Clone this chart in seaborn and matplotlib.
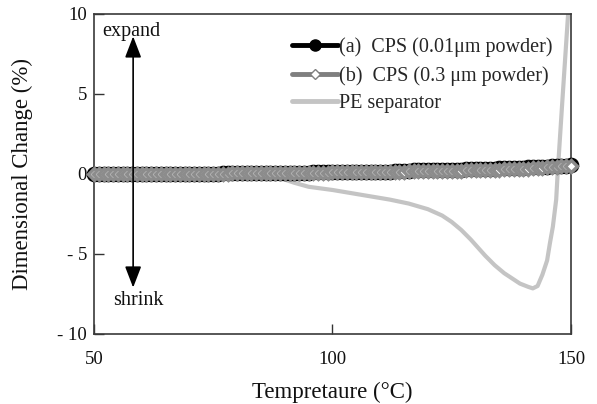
import matplotlib
matplotlib.use("Agg")
import matplotlib.pyplot as plt
from matplotlib.lines import Line2D
import pandas as pd
import seaborn as sns

# Temperature grid of the CPS scans (°C)
cps_temp = list(range(50, 151))

# (a) CPS, 0.01 µm powder: dimensional change (%)
cps_a = [
    0.00, 0.00, 0.00, 0.00, 0.00, 0.00, 0.00, 0.00, 0.00, 0.00,
    0.00, 0.00, 0.01, 0.01, 0.01, 0.01, 0.01, 0.02, 0.02, 0.02,
    0.02, 0.02, 0.03, 0.03, 0.03, 0.03, 0.03, 0.04, 0.04, 0.04,
    0.04, 0.05, 0.05, 0.05, 0.05, 0.06, 0.06, 0.06, 0.07, 0.07,
    0.07, 0.08, 0.08, 0.08, 0.09, 0.09, 0.10, 0.10, 0.10, 0.11,
    0.11, 0.11, 0.12, 0.12, 0.12, 0.13, 0.13, 0.13, 0.14, 0.14,
    0.14, 0.15, 0.15, 0.16, 0.16, 0.17, 0.18, 0.22, 0.24, 0.24,
    0.25, 0.25, 0.26, 0.26, 0.27, 0.27, 0.28, 0.28, 0.29, 0.30,
    0.30, 0.31, 0.32, 0.33, 0.34, 0.35, 0.36, 0.37, 0.38, 0.39,
    0.40, 0.41, 0.42, 0.43, 0.44, 0.45, 0.47, 0.49, 0.51, 0.53, 0.55,
]

# (b) CPS, 0.3 µm powder: dimensional change (%)
cps_b = [
    0.00, 0.00, 0.00, 0.00, 0.00, 0.00, 0.00, 0.00, 0.00, 0.00,
    0.00, 0.00, 0.00, 0.01, 0.01, 0.01, 0.01, 0.01, 0.01, 0.02,
    0.02, 0.02, 0.02, 0.02, 0.03, 0.03, 0.03, 0.03, 0.03, 0.04,
    0.04, 0.04, 0.04, 0.05, 0.05, 0.05, 0.05, 0.06, 0.06, 0.06,
    0.06, 0.07, 0.07, 0.07, 0.08, 0.08, 0.08, 0.09, 0.09, 0.09,
    0.10, 0.10, 0.10, 0.11, 0.11, 0.11, 0.12, 0.12, 0.12, 0.13,
    0.13, 0.13, 0.14, 0.14, 0.15, 0.15, 0.16, 0.16, 0.17, 0.17,
    0.18, 0.18, 0.19, 0.19, 0.20, 0.20, 0.21, 0.21, 0.22, 0.22,
    0.23, 0.24, 0.25, 0.26, 0.27, 0.28, 0.29, 0.30, 0.31, 0.32,
    0.33, 0.34, 0.36, 0.38, 0.40, 0.42, 0.44, 0.46, 0.48, 0.50, 0.52,
]

# PE separator
pe_temp = [50, 60, 70, 80, 85, 88, 90, 92, 95, 100, 106, 112, 116, 120,
           123, 125, 127, 129, 132, 134, 136, 139.3, 141, 142, 143, 144,
           145, 145.6, 146.2, 146.9, 147.2, 147.7, 148.2, 148.8, 149.4,
           149.6]
pe_vals = [0.0, 0.0, 0.0, -0.05, -0.1, -0.2, -0.35, -0.55, -0.8, -1.0,
           -1.3, -1.6, -1.85, -2.2, -2.6, -3.0, -3.5, -4.1, -5.1, -5.7,
           -6.2, -6.85, -7.05, -7.15, -7.0, -6.3, -5.4, -4.3, -3.3, -1.6,
           0.0, 2.3, 4.6, 7.3, 10.0, 11.0]

legend_labels = ["(a)  CPS (0.01\u03bcm powder)",
                 "(b)  CPS (0.3 \u03bcm powder)",
                 "PE separator"]
y_ticks = [-10, -5, 0, 5, 10]
y_tick_labels = ["- 10", "- 5", "0", "5", "10"]
x_ticks = [50, 100, 150]

sns.set_style("ticks")
plt.rcParams["font.family"] = ["Liberation Serif", "DejaVu Serif"]

fig = plt.figure(figsize=(5.97, 4.04), dpi=100)
ax = fig.add_axes([0.1575, 0.1733, 0.7989, 0.7921])

df_pe = pd.DataFrame({"T": pe_temp, "dL": pe_vals})
df_a = pd.DataFrame({"T": cps_temp, "dL": cps_a})
df_b = pd.DataFrame({"T": cps_temp, "dL": cps_b})

sns.lineplot(data=df_pe, x="T", y="dL", ax=ax, color="#c4c4c4", lw=3.0,
             sort=False, estimator=None, zorder=2)
sns.lineplot(data=df_a, x="T", y="dL", ax=ax, color="black", lw=3.0,
             marker="o", markersize=10.5, markerfacecolor="black",
             markeredgecolor="black", sort=False, estimator=None,
             zorder=3, clip_on=False)
sns.lineplot(data=df_b, x="T", y="dL", ax=ax, color="#8a8a8a", lw=3.0,
             marker="D", markersize=6.5, markerfacecolor="white",
             markeredgecolor="#8c8c8c", markeredgewidth=2.4, sort=False,
             estimator=None, zorder=4, clip_on=False)

ax.set_xlim(50, 150)
ax.set_ylim(-10, 10)
ax.set_xticks(x_ticks)
ax.set_xticklabels([str(t) for t in x_ticks])
ax.set_yticks(y_ticks)
ax.set_yticklabels(y_tick_labels)
ax.tick_params(axis="both", direction="in", length=7, width=1.0,
               color="#333333", labelsize=13.5, labelcolor="#111111")
ax.tick_params(axis="x", pad=12)
ax.tick_params(axis="y", pad=5)

for side in ["left", "right", "top", "bottom"]:
    ax.spines[side].set_visible(True)
    ax.spines[side].set_color("#3a3a3a")
    ax.spines[side].set_linewidth(1.2)

ax.set_xlabel("Tempretaure (\u00b0C)", fontsize=16.5, color="#111111")
ax.set_ylabel("Dimensional Change (%)", fontsize=16.5, color="#111111")
ax.xaxis.set_label_coords(0.5, -0.182)
ax.xaxis.label.set_va("center")
ax.yaxis.set_label_coords(-0.151, 0.5)
ax.yaxis.label.set_va("center")

# expand / shrink arrow
ax.annotate("", xy=(58.2, 8.6), xytext=(58.2, -7.1),
            arrowprops=dict(arrowstyle="<|-|>,head_length=1.3,head_width=0.5",
                            color="black", lw=1.2, shrinkA=0, shrinkB=0),
            zorder=6)
ax.text(51.7, 8.9, "expand", fontsize=14.5, ha="left", va="center",
        color="#111111")
ax.text(54.0, -7.9, "shrink", fontsize=14.5, ha="left", va="center",
        color="#111111")

handles = [
    Line2D([], [], color="black", lw=3.5, marker="o", markersize=8,
           markerfacecolor="black", markeredgecolor="black"),
    Line2D([], [], color="#7f7f7f", lw=3.5, marker="D", markersize=5,
           markerfacecolor="white", markeredgecolor="#7f7f7f"),
    Line2D([], [], color="#c4c4c4", lw=3.5),
]
ax.legend(handles, legend_labels, loc="upper left",
          bbox_to_anchor=(0.415, 0.926), frameon=False, fontsize=14.5,
          handlelength=2.3, handletextpad=0.05, labelspacing=0.42,
          borderpad=0, borderaxespad=0)

fig.savefig("out.png", dpi=100)
